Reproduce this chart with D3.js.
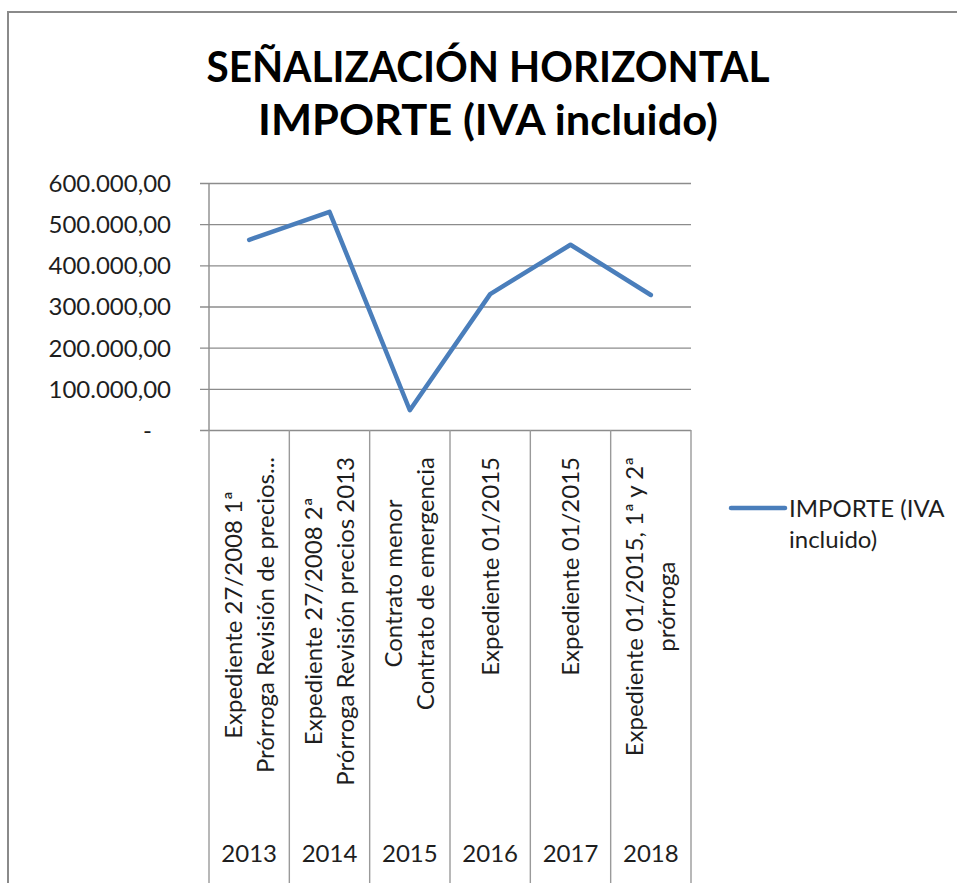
<!DOCTYPE html>
<html>
<head>
<meta charset="utf-8">
<script src="https://cdn.jsdelivr.net/npm/d3@7"></script>
<style>
  html, body { margin: 0; padding: 0; background: #fff; }
  svg { display: block; font-family: Lato, "Open Sans", sans-serif; }
</style>
</head>
<body>
<div id="chart"></div>
<script>
// chart data
const years = ['2013', '2014', '2015', '2016', '2017', '2018'];
const labels = [
  ['Expediente 27/2008 1ª', 'Prórroga  Revisión de precios...'],
  ['Expediente 27/2008 2ª', 'Prórroga Revisión precios 2013'],
  ['Contrato menor', 'Contrato de emergencia'],
  ['Expediente 01/2015'],
  ['Expediente 01/2015'],
  ['Expediente 01/2015, 1ª y 2ª', 'prórroga']
];
const importe = [462000, 530000, 48000, 330000, 450000, 328000];
const yTicks = [0, 100000, 200000, 300000, 400000, 500000, 600000];
const titleLines = ['SEÑALIZACIÓN HORIZONTAL', 'IMPORTE (IVA incluido)'];
const seriesName = ['IMPORTE (IVA', 'incluido)'];

const width = 957, height = 883;
const plot = { left: 209, right: 691, top: 183, bottom: 430 };
const lineColor = '#4a7ebb';
const gridColor = '#8c8c8c';
const textColor = '#1e1e1e';

const locale = d3.formatLocale({ decimal: ',', thousands: '.', grouping: [3], currency: ['', ''] });
const fmt = locale.format(',.2f');

const svg = d3.select('#chart')
  .append('svg')
  .attr('width', width)
  .attr('height', height);

// outer frame (only left and top edges visible)
svg.append('path')
  .attr('d', 'M8,' + height + 'V12H' + width)
  .attr('fill', 'none')
  .attr('stroke', '#8a8a8a')
  .attr('stroke-width', 2);

// title
svg.append('g')
  .selectAll('text')
  .data(titleLines)
  .enter()
  .append('text')
  .attr('x', 488)
  .attr('y', (d, i) => 82 + i * 53)
  .attr('text-anchor', 'middle')
  .attr('font-weight', 'bold')
  .attr('font-size', 42)
  .attr('fill', '#000')
  .attr('textLength', (d, i) => i === 0 ? 563 : 460)
  .attr('lengthAdjust', 'spacingAndGlyphs')
  .text(d => d);

const x = d3.scaleBand()
  .domain(years)
  .range([plot.left, plot.right])
  .padding(0);

const y = d3.scaleLinear()
  .domain([0, 600000])
  .range([plot.bottom, plot.top]);

// horizontal gridlines with small outside ticks
const yAxis = d3.axisLeft(y)
  .tickValues(yTicks)
  .tickSize(-(plot.right - plot.left))
  .tickFormat(d => d === 0 ? '-' : fmt(d));

const yg = svg.append('g')
  .attr('transform', 'translate(' + plot.left + ',0)')
  .call(yAxis);
yg.select('.domain').remove();
yg.selectAll('.tick line')
  .attr('x1', -9)
  .attr('stroke', gridColor)
  .attr('stroke-width', 1.4);
yg.selectAll('.tick text')
  .attr('x', d => d === 0 ? -57 : -38)
  .attr('dy', '0.35em')
  .attr('font-size', 24)
  .attr('font-family', 'Lato, sans-serif')
  .attr('fill', textColor);

// value axis line
svg.append('line')
  .attr('x1', plot.left).attr('x2', plot.left)
  .attr('y1', plot.top).attr('y2', plot.bottom)
  .attr('stroke', gridColor)
  .attr('stroke-width', 1.4);

// category dividers running down through the label rows
const edges = years.map(d => x(d)).concat([plot.right]);
svg.append('g')
  .selectAll('line')
  .data(edges)
  .enter()
  .append('line')
  .attr('x1', d => d).attr('x2', d => d)
  .attr('y1', plot.bottom).attr('y2', height)
  .attr('stroke', '#9a9a9a')
  .attr('stroke-width', 1.4);

// rotated category labels
const catG = svg.append('g')
  .selectAll('g')
  .data(labels)
  .enter()
  .append('g')
  .attr('font-size', 24)
  .attr('fill', textColor);

catG.selectAll('text')
  .data(d => d)
  .enter()
  .append('text')
  .attr('text-anchor', 'middle')
  .attr('dy', '0.35em')
  .attr('y', function (d, i) {
    const n = this.parentNode.__data__.length;
    return (i - (n - 1) / 2) * 32;
  })
  .text(d => d);

catG.attr('transform', function (d, i) {
  let maxLen = 0;
  d3.select(this).selectAll('text').each(function () {
    maxLen = Math.max(maxLen, this.getComputedTextLength());
  });
  const cy = Math.min(457 + maxLen / 2, 792 - maxLen / 2);
  const cx = x(years[i]) + x.bandwidth() / 2;
  return 'translate(' + cx + ',' + cy + ') rotate(-90)';
});

// year row
svg.append('g')
  .selectAll('text')
  .data(years)
  .enter()
  .append('text')
  .attr('x', d => x(d) + x.bandwidth() / 2)
  .attr('y', 862)
  .attr('text-anchor', 'middle')
  .attr('font-size', 24)
  .attr('fill', textColor)
  .text(d => d);

// the series line
const line = d3.line()
  .x((d, i) => x(years[i]) + x.bandwidth() / 2)
  .y(d => y(d));

svg.append('path')
  .datum(importe)
  .attr('d', line)
  .attr('fill', 'none')
  .attr('stroke', lineColor)
  .attr('stroke-width', 4.5)
  .attr('stroke-linejoin', 'round')
  .attr('stroke-linecap', 'round');

// legend
const legend = svg.append('g');
legend.append('line')
  .attr('x1', 731).attr('x2', 785)
  .attr('y1', 508).attr('y2', 508)
  .attr('stroke', lineColor)
  .attr('stroke-width', 4.5)
  .attr('stroke-linecap', 'round');
legend.selectAll('text')
  .data(seriesName)
  .enter()
  .append('text')
  .attr('x', 789)
  .attr('y', (d, i) => 517 + i * 31)
  .attr('font-size', 24)
  .attr('fill', textColor)
  .text(d => d);
</script>
</body>
</html>
